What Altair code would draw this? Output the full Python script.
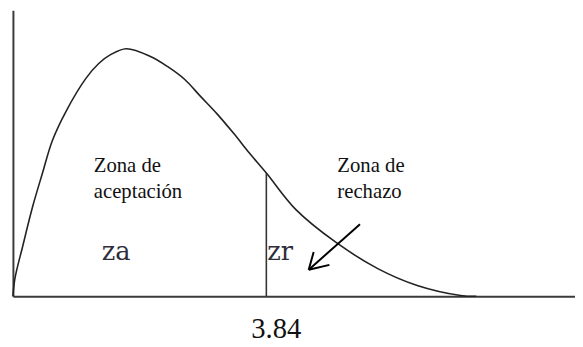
import altair as alt
import pandas as pd

# density curve (x in chi-square units, y relative height)
curve_x = [0.0, 0.030, 0.149, 0.299, 0.448, 0.598, 0.807, 1.106, 1.300, 1.479,
           1.718, 2.092, 2.346, 2.600, 2.839, 3.093, 3.347, 3.586, 3.840, 4.288,
           4.886, 5.528, 6.126, 6.783, 7.022]
curve_y = [0.0, 0.062, 0.176, 0.314, 0.431, 0.545, 0.648, 0.762, 0.814, 0.845,
           0.866, 0.838, 0.803, 0.759, 0.700, 0.638, 0.569, 0.500, 0.431, 0.303,
           0.190, 0.097, 0.038, 0.003, 0.0]

# critical value
crit_x = [3.84]
crit_y0 = [0.0]
crit_y1 = [0.431]
crit_label = ["3.84"]

# arrow (shaft + two head strokes)
arrow_x = [5.259, 4.482, 4.482]
arrow_y = [0.252, 0.093, 0.093]
arrow_x2 = [4.482, 4.557, 4.796]
arrow_y2 = [0.093, 0.155, 0.110]

# zone texts
zone_text = ["Zona de", "aceptación", "Zona de", "rechazo"]
zone_x = [1.225, 1.225, 4.916, 4.916]
zone_y = [0.434, 0.345, 0.434, 0.345]

short_text = ["za", "zr"]
short_x = [1.345, 3.855]
short_y = [0.128, 0.128]

SERIF = "'Liberation Serif', 'Times New Roman', Times, serif"
SERIF2 = "'DejaVu Serif', 'Liberation Serif', serif"

xs = alt.Scale(domain=[0, 8.517], nice=False, zero=False)
ys = alt.Scale(domain=[0, 1], nice=False, zero=False)
ax = alt.Axis(labels=False, ticks=False, grid=False, domainColor="#3a3a3a",
              domainWidth=2, title="")

curve_df = pd.DataFrame({"x": curve_x, "y": curve_y})
crit_df = pd.DataFrame({"x": crit_x, "y0": crit_y0, "y1": crit_y1, "label": crit_label,
                        "ly": [-0.145]})
arrow_df = pd.DataFrame({"x": arrow_x, "y": arrow_y, "x2": arrow_x2, "y2": arrow_y2})
zone_df = pd.DataFrame({"t": zone_text, "x": zone_x, "y": zone_y})
short_df = pd.DataFrame({"t": short_text, "x": short_x, "y": short_y})

curve = alt.Chart(curve_df).mark_line(interpolate="catmull-rom", color="#222222",
                                      strokeWidth=1.6).encode(
    x=alt.X("x:Q", scale=xs, axis=ax),
    y=alt.Y("y:Q", scale=ys, axis=ax),
)

crit = alt.Chart(crit_df).mark_rule(color="#333333", strokeWidth=1.6).encode(
    x=alt.X("x:Q", scale=xs, axis=ax),
    y=alt.Y("y0:Q", scale=ys, axis=ax),
    y2="y1:Q",
)

crit_text = alt.Chart(crit_df).mark_text(
    font=SERIF, fontSize=29, color="#111111",
    align="center", baseline="alphabetic", dx=10
).encode(
    x=alt.X("x:Q", scale=xs, axis=ax),
    y=alt.Y("ly:Q", scale=ys, axis=ax),
    text="label:N",
)

arrow = alt.Chart(arrow_df).mark_rule(color="#000000", strokeWidth=2).encode(
    x=alt.X("x:Q", scale=xs, axis=ax),
    y=alt.Y("y:Q", scale=ys, axis=ax),
    x2="x2:Q",
    y2="y2:Q",
)

zones = alt.Chart(zone_df).mark_text(
    font=SERIF, fontSize=21, color="#111111",
    align="left", baseline="alphabetic"
).encode(
    x=alt.X("x:Q", scale=xs, axis=ax),
    y=alt.Y("y:Q", scale=ys, axis=ax),
    text="t:N",
)

shorts = alt.Chart(short_df).mark_text(
    font=SERIF2, fontSize=26, color="#2e2e3a",
    align="left", baseline="alphabetic"
).encode(
    x=alt.X("x:Q", scale=xs, axis=ax),
    y=alt.Y("y:Q", scale=ys, axis=ax),
    text="t:N",
)

chart = alt.layer(curve, crit, arrow, zones, shorts, crit_text).properties(
    width=570,
    height=290,
    autosize=alt.AutoSizeParams(type="none"),
    padding={"left": 5, "top": 0, "right": 0, "bottom": 48},
    background="white",
).configure_view(stroke=None)

chart.save("out.html", embed_options={"renderer": "svg", "actions": False})
